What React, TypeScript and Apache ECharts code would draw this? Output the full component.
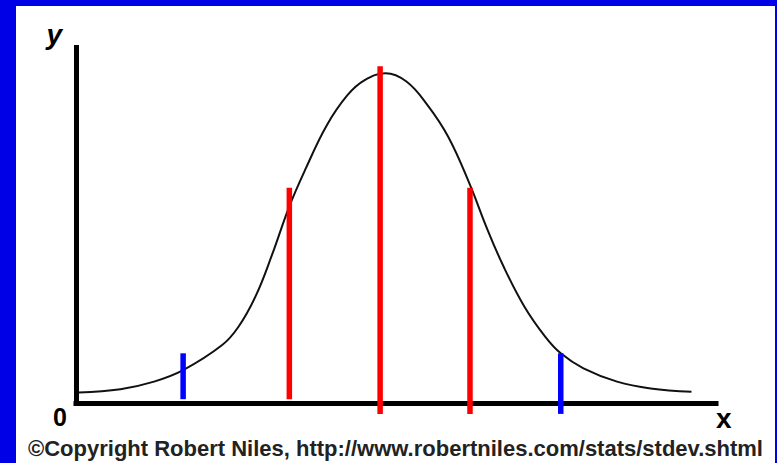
import { useEffect, useRef } from "react";
import * as echarts from "echarts";

// Bell curve traced point by point (x in standard deviations from the mean, y in relative height)
const curveX = [-3.32, -2.86, -2.49, -2.17, -1.74, -1.56, -1.37, -1.19, -1.0, -0.82, -0.59, -0.36, -0.17, 0.06, 0.29, 0.52, 0.75, 0.99, 1.17, 1.36, 1.59, 1.82, 1.99, 2.24, 2.61, 2.98, 3.43];
const curveY = [3.1, 4.0, 6.1, 9.3, 16.3, 21.4, 30.0, 41.5, 55.0, 65.5, 77.5, 86.0, 90.2, 92.1, 89.8, 83.3, 74.4, 61.0, 49.3, 38.2, 27.0, 18.6, 14.0, 9.8, 6.1, 4.2, 3.3];

// Vertical markers at the mean, one and two standard deviations
const markerSigma = [-2, -1, 0, 1, 2];
const markerX = [-2.17, -1.0, 0, 0.99, 1.99];
const markerTop = [14.0, 60.2, 94.1, 60.2, 14.0];
const markerBottom = [1.2, 1.2, -2.9, -2.9, -2.9];

const xName = "x";
const yName = "y";
const originLabel = "0";
const credit = "©Copyright Robert Niles, http://www.robertniles.com/stats/stdev.shtml";

const FONT = '"Liberation Sans", Arial, Helvetica, sans-serif';

export default function App() {
  const ref = useRef<HTMLDivElement>(null);

  useEffect(() => {
    if (!ref.current) return;
    const chart = echarts.init(ref.current, null, { renderer: "svg" });

    const markerSeries = markerX.map((x, i) => ({
      type: "line" as const,
      name: `sd${markerSigma[i]}`,
      data: [
        [x, markerBottom[i]],
        [x, markerTop[i]],
      ],
      symbol: "none",
      clip: false,
      z: 5,
      silent: true,
      lineStyle: {
        color: Math.abs(markerSigma[i]) >= 2 ? "#0000ff" : "#ff0000",
        width: 5.5,
        cap: "butt" as const,
      },
    }));

    chart.setOption({
      animation: false,
      backgroundColor: "#ffffff",
      title: {
        text: credit,
        left: 12,
        top: 431,
        padding: 0,
        textStyle: {
          fontFamily: FONT,
          fontSize: 22,
          fontWeight: "bold",
          color: "#222222",
        },
      },
      grid: { left: 60, right: 59, top: 39, bottom: 59.5 },
      xAxis: {
        type: "value",
        min: -3.35,
        max: 3.7,
        name: xName,
        nameLocation: "end",
        nameGap: 0,
        nameTextStyle: {
          fontFamily: FONT,
          fontSize: 28,
          fontWeight: "bold",
          color: "#000",
          align: "left",
          verticalAlign: "top",
          padding: [1, 0, 0, 0],
        },
        axisLine: {
          show: true,
          onZero: false,
          lineStyle: { color: "#000", width: 5, cap: "square" },
        },
        axisTick: { show: false },
        axisLabel: { show: false },
        splitLine: { show: false },
      },
      yAxis: {
        type: "value",
        min: 0,
        max: 100,
        interval: 100,
        name: yName,
        nameLocation: "end",
        nameGap: -3,
        nameTextStyle: {
          fontFamily: FONT,
          fontSize: 28,
          fontWeight: "bold",
          fontStyle: "italic",
          color: "#000",
          align: "right",
          verticalAlign: "bottom",
          padding: [0, 14, 0, 0],
        },
        axisLine: {
          show: true,
          onZero: false,
          lineStyle: { color: "#000", width: 5, cap: "butt" },
        },
        axisTick: { show: false },
        splitLine: { show: false },
        axisLabel: {
          show: true,
          margin: 9,
          fontFamily: FONT,
          fontSize: 25,
          fontWeight: "bold",
          color: "#000",
          verticalAlign: "top",
          padding: [1, 0, 0, 0],
          formatter: (v: number) => (v === 0 ? originLabel : ""),
        },
      },
      series: [
        {
          type: "line",
          name: "curve",
          data: curveX.map((x, i) => [x, curveY[i]]),
          symbol: "none",
          smooth: 0.4,
          z: 3,
          lineStyle: { color: "#111", width: 2 },
        },
        ...markerSeries,
      ],
    });

    return () => chart.dispose();
  }, []);

  return (
    <div
      style={{
        position: "fixed",
        left: 0,
        top: 0,
        width: 777,
        height: 463,
        background: "#0000e6",
      }}
    >
      <div
        ref={ref}
        style={{ position: "absolute", left: 16, top: 6, width: 759, height: 457 }}
      />
    </div>
  );
}
